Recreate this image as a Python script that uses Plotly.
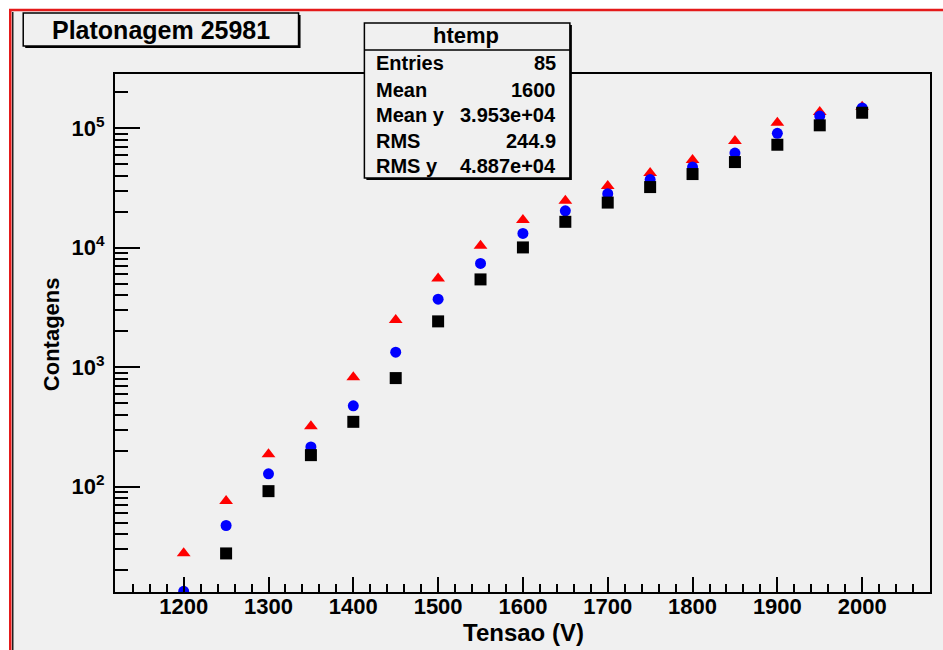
import plotly.graph_objects as go

# ---------------- data ----------------
tensao = [1200, 1250, 1300, 1350, 1400, 1450, 1500, 1550, 1600,
          1650, 1700, 1750, 1800, 1850, 1900, 1950, 2000]

contagens_red = [27.7, 76, 187, 321, 826, 2480, 5540, 10400, 17060,
                 24760, 32870, 42250, 54300, 78300, 111400, 137000, 151700]
contagens_blue = [13.3, 47.3, 128, 215, 475, 1337, 3715, 7400, 13200,
                  20400, 28400, 37250, 47400, 62100, 90800, 126800, 148000]
contagens_black = [None, 27.6, 91.7, 183.6, 349, 811, 2420, 5435, 10070,
                   16500, 23900, 32230, 41420, 52200, 72900, 106000, 135100]

y_tickvals = [100, 1000, 10000, 100000]
y_ticktext = ["10<sup>2</sup>", "10<sup>3</sup>", "10<sup>4</sup>", "10<sup>5</sup>"]
y_minor = [m * 10 ** e for e in range(1, 6) for m in range(2, 10)]

title_text = "Platonagem 25981"
stats_name = "htemp"
stats_labels = ["Entries", "Mean", "Mean y", "RMS", "RMS y"]
stats_values = ["85", "1600", "3.953e+04", "244.9", "4.887e+04"]

# ---------------- layout geometry ----------------
W, H = 943, 650
L, R, T, B = 115, 932, 74, 592
PW, PH = R - L, B - T


def xp(px):
    return (px - L) / PW


def yp(py):
    return (B - py) / PH


FONT = "Liberation Sans, Arial, Helvetica, sans-serif"
BG = "#f0f0f0"

fig = go.Figure()
fig.add_trace(go.Scatter(x=tensao, y=contagens_red, mode="markers",
                         marker=dict(symbol="triangle-up", size=12, color="#ff0000"),
                         showlegend=False, cliponaxis=True))
fig.add_trace(go.Scatter(x=tensao, y=contagens_blue, mode="markers",
                         marker=dict(symbol="circle", size=11, color="#0000ff"),
                         showlegend=False, cliponaxis=True))
fig.add_trace(go.Scatter(x=tensao, y=contagens_black, mode="markers",
                         marker=dict(symbol="square", size=12, color="#000000"),
                         showlegend=False, cliponaxis=True))

shapes = []
# canvas background with red border
shapes.append(dict(type="rect", xref="paper", yref="paper", layer="below",
                   x0=xp(10), x1=xp(960), y0=yp(670), y1=yp(10),
                   fillcolor=BG, line=dict(color="#e41a1a", width=2.5)))
shapes.append(dict(type="line", xref="paper", yref="paper", layer="below",
                   x0=xp(12.5), x1=xp(12.5), y0=yp(670), y1=yp(12),
                   line=dict(color="#202020", width=1.5)))

# title box (with shadow)
shapes.append(dict(type="rect", xref="paper", yref="paper", layer="above",
                   x0=xp(25), x1=xp(301), y0=yp(48), y1=yp(15),
                   fillcolor="#000000", line=dict(width=0)))
shapes.append(dict(type="rect", xref="paper", yref="paper", layer="above",
                   x0=xp(23), x1=xp(299), y0=yp(46), y1=yp(13),
                   fillcolor=BG, line=dict(color="#000000", width=1.5)))

# stats box (with shadow)
shapes.append(dict(type="rect", xref="paper", yref="paper", layer="above",
                   x0=xp(367), x1=xp(573), y0=yp(180), y1=yp(25),
                   fillcolor="#000000", line=dict(width=0)))
shapes.append(dict(type="rect", xref="paper", yref="paper", layer="above",
                   x0=xp(365), x1=xp(571), y0=yp(178), y1=yp(23),
                   fillcolor=BG, line=dict(color="#000000", width=1.5)))
shapes.append(dict(type="line", xref="paper", yref="paper", layer="above",
                   x0=xp(365), x1=xp(571), y0=yp(50), y1=yp(50),
                   line=dict(color="#000000", width=1.5)))

annotations = []
annotations.append(dict(text=title_text, xref="paper", yref="paper",
                        x=xp(161), y=yp(30), showarrow=False,
                        xanchor="center", yanchor="middle",
                        font=dict(family=FONT, size=25, color="#000000", weight="bold")))
annotations.append(dict(text=stats_name, xref="paper", yref="paper",
                        x=xp(467), y=yp(36), showarrow=False,
                        xanchor="center", yanchor="middle",
                        font=dict(family=FONT, size=22, color="#000000", weight="bold")))
row_y = [63, 90, 115, 141, 166]
for lab, val, ry in zip(stats_labels, stats_values, row_y):
    annotations.append(dict(text=lab, xref="paper", yref="paper",
                            x=xp(375), y=yp(ry), showarrow=False,
                            xanchor="left", yanchor="middle",
                            font=dict(family=FONT, size=20, color="#000000", weight="bold")))
    annotations.append(dict(text=val, xref="paper", yref="paper",
                            x=xp(559), y=yp(ry), showarrow=False,
                            xanchor="right", yanchor="middle",
                            font=dict(family=FONT, size=20, color="#000000", weight="bold")))

annotations.append(dict(text="Tensao (V)", xref="paper", yref="paper",
                        x=xp(525), y=yp(632), showarrow=False,
                        xanchor="center", yanchor="middle",
                        font=dict(family=FONT, size=24, color="#000000", weight="bold")))
annotations.append(dict(text="Contagens", xref="paper", yref="paper",
                        x=xp(51), y=yp(334), showarrow=False, textangle=-90,
                        xanchor="center", yanchor="middle",
                        font=dict(family=FONT, size=22, color="#000000", weight="bold")))

fig.update_layout(
    width=W, height=H,
    margin=dict(l=L, r=W - R, t=T, b=H - B, pad=0),
    paper_bgcolor="#ffffff",
    plot_bgcolor=BG,
    shapes=shapes,
    annotations=annotations,
    showlegend=False,
    xaxis=dict(
        range=[1119, 2080],
        tickmode="linear", tick0=1200, dtick=100,
        ticks="inside", ticklen=15, tickwidth=1.5, tickcolor="#000000",
        minor=dict(ticks="inside", ticklen=8, tickwidth=1.5, tickcolor="#000000",
                   tickmode="linear", tick0=1200, dtick=20, showgrid=False),
        showline=True, linecolor="#000000", linewidth=2, mirror=True,
        showgrid=False, zeroline=False,
        tickfont=dict(family=FONT, size=22, color="#000000", weight="bold"),
        ticklabelstandoff=-6,
    ),
    yaxis=dict(
        type="log",
        range=[1.118, 5.455],
        tickmode="array", tickvals=y_tickvals, ticktext=y_ticktext,
        ticks="inside", ticklen=25, tickwidth=1.5, tickcolor="#000000",
        minor=dict(ticks="inside", ticklen=13, tickwidth=1.5, tickcolor="#000000",
                   tickmode="array", tickvals=y_minor, showgrid=False),
        showline=True, linecolor="#000000", linewidth=2, mirror=True,
        showgrid=False, zeroline=False,
        tickfont=dict(family=FONT, size=22, color="#000000", weight="bold"),
        ticklabelstandoff=4,
    ),
)

fig.write_html("out.html",
               config={"displayModeBar": False},
               post_script="document.body.style.margin='0px';"
                           "document.body.style.overflow='hidden';")
